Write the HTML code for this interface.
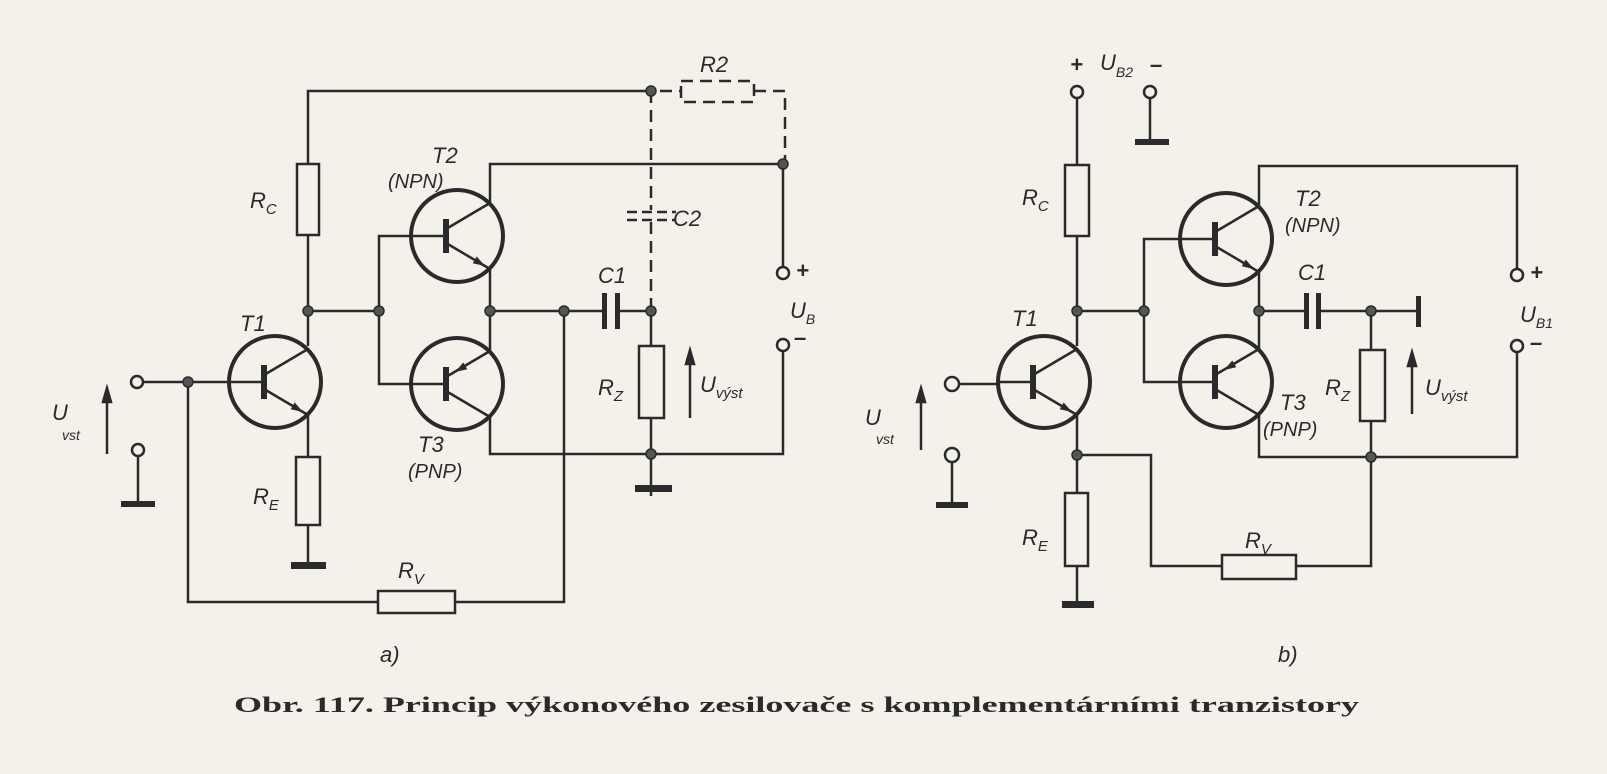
<!DOCTYPE html>
<html><head><meta charset="utf-8"><style>
html,body{margin:0;padding:0;background:#f3f1ea;}
svg{display:block}
text{font-family:"Liberation Sans",sans-serif;font-style:italic;fill:#2a2a2a;}
text.cap{font-family:"Liberation Serif",serif;font-style:normal;font-weight:bold;}
</style></head><body>
<svg width="1607" height="774" viewBox="0 0 1607 774" xmlns="http://www.w3.org/2000/svg">
<rect width="1607" height="774" fill="#f3f1ea"/>
<defs>
<g id="npn" fill="none" stroke="#2a2a2a">
<circle r="46" stroke-width="4"/>
<line x1="-46" y1="0" x2="-11" y2="0" stroke-width="2.5"/>
<line x1="-11" y1="-17" x2="-11" y2="17" stroke-width="6"/>
<line x1="-11" y1="-7" x2="33" y2="-33" stroke-width="2.5"/>
<line x1="-11" y1="7" x2="33" y2="33" stroke-width="2.5"/>
<polygon points="28,30 15.7,27.3 19.7,20.5" fill="#2a2a2a" stroke="none"/>
</g>
<g id="pnp" fill="none" stroke="#2a2a2a">
<circle r="46" stroke-width="4"/>
<line x1="-46" y1="0" x2="-11" y2="0" stroke-width="2.5"/>
<line x1="-11" y1="-17" x2="-11" y2="17" stroke-width="6"/>
<line x1="-11" y1="-7" x2="33" y2="-33" stroke-width="2.5"/>
<line x1="-11" y1="7" x2="33" y2="33" stroke-width="2.5"/>
<polygon points="-2,-12 10.3,-14.7 6.3,-21.5" fill="#2a2a2a" stroke="none"/>
</g>
</defs>

<g fill="none" stroke="#2a2a2a" stroke-width="2.5">
<!-- ===== circuit a ===== -->
<polyline points="308,164 308,91 651,91"/>
<rect x="297" y="164" width="22" height="71"/>
<line x1="308" y1="235" x2="308" y2="346"/>
<line x1="308" y1="311" x2="379" y2="311"/>
<polyline points="412,236 379,236 379,384 412,384"/>
<polyline points="490,203 490,164 783,164 783,268"/>
<line x1="490" y1="269" x2="490" y2="351"/>
<polyline points="490,417 490,454 783,454 783,350"/>
<line x1="490" y1="311" x2="605" y2="311"/>
<line x1="617" y1="311" x2="651" y2="311"/>
<line x1="651" y1="311" x2="651" y2="346"/>
<rect x="639" y="346" width="25" height="72"/>
<line x1="651" y1="418" x2="651" y2="496"/>
<g stroke-dasharray="12,7">
<line x1="651" y1="91" x2="651" y2="210"/>
<line x1="651" y1="222" x2="651" y2="311"/>
<line x1="660" y1="91" x2="681" y2="91"/>
<rect x="681" y="81" width="73" height="21"/>
<polyline points="754,91 785,91 785,164"/>
<line x1="627" y1="212" x2="676" y2="212" stroke-dasharray="10,5"/>
<line x1="627" y1="220" x2="676" y2="220" stroke-dasharray="10,5"/>
</g>
<line x1="143" y1="382" x2="228" y2="382"/>
<polyline points="188,382 188,602 378,602"/>
<rect x="378" y="591" width="77" height="22"/>
<polyline points="455,602 564,602 564,311"/>
<line x1="308" y1="415" x2="308" y2="457"/>
<rect x="296" y="457" width="24" height="68"/>
<line x1="308" y1="525" x2="308" y2="563"/>
<line x1="138" y1="456" x2="138" y2="502"/>

<!-- ===== circuit b ===== -->
<line x1="1077" y1="98" x2="1077" y2="165"/>
<rect x="1065" y="165" width="24" height="71"/>
<line x1="1077" y1="236" x2="1077" y2="346"/>
<line x1="1150" y1="98" x2="1150" y2="140"/>
<line x1="1077" y1="311" x2="1144" y2="311"/>
<polyline points="1180,239 1144,239 1144,382 1180,382"/>
<polyline points="1259,206 1259,166 1517,166 1517,269"/>
<line x1="1259" y1="272" x2="1259" y2="349"/>
<polyline points="1259,415 1259,457 1517,457 1517,352"/>
<line x1="1259" y1="311" x2="1307" y2="311"/>
<line x1="1318" y1="311" x2="1418" y2="311"/>
<line x1="1371" y1="311" x2="1371" y2="350"/>
<rect x="1360" y="350" width="25" height="71"/>
<polyline points="1371,421 1371,566 1296,566"/>
<rect x="1222" y="555" width="74" height="24"/>
<polyline points="1222,566 1151,566 1151,455 1077,455"/>
<line x1="1077" y1="415" x2="1077" y2="493"/>
<rect x="1065" y="493" width="23" height="73"/>
<line x1="1077" y1="566" x2="1077" y2="603"/>
<line x1="958" y1="384" x2="998" y2="384"/>
<line x1="952" y1="461" x2="952" y2="503"/>
</g>

<use href="#npn" x="275" y="382"/>
<use href="#npn" x="457" y="236"/>
<use href="#pnp" x="457" y="384"/>
<use href="#npn" x="1044" y="382"/>
<use href="#npn" x="1226" y="239"/>
<use href="#pnp" x="1226" y="382"/>

<g fill="#2a2a2a">
<rect x="602" y="293" width="5" height="36"/><rect x="615" y="293" width="5" height="36"/>
<rect x="1304" y="293" width="5" height="36"/><rect x="1316" y="293" width="5" height="36"/>
<rect x="1416" y="296" width="5" height="31"/>
<rect x="635" y="485" width="37" height="7"/>
<rect x="291" y="562" width="35" height="7"/>
<rect x="121" y="501" width="34" height="6"/>
<rect x="1135" y="139" width="34" height="6"/>
<rect x="936" y="502" width="32" height="6"/>
<rect x="1062" y="601" width="32" height="7"/>
</g>
<g fill="#555" stroke="#2a2a2a" stroke-width="1.5">
<circle cx="651" cy="91" r="5"/><circle cx="308" cy="311" r="5"/><circle cx="379" cy="311" r="5"/>
<circle cx="490" cy="311" r="5"/><circle cx="564" cy="311" r="5"/><circle cx="651" cy="311" r="5"/>
<circle cx="651" cy="454" r="5"/><circle cx="188" cy="382" r="5"/><circle cx="783" cy="164" r="5"/>
<circle cx="1077" cy="311" r="5"/><circle cx="1144" cy="311" r="5"/><circle cx="1259" cy="311" r="5"/>
<circle cx="1371" cy="311" r="5"/><circle cx="1371" cy="457" r="5"/><circle cx="1077" cy="455" r="5"/>
</g>
<g fill="#f3f1ea" stroke="#2a2a2a" stroke-width="2.5">
<circle cx="137" cy="382" r="6"/><circle cx="138" cy="450" r="6"/>
<circle cx="783" cy="273" r="6"/><circle cx="783" cy="345" r="6"/>
<circle cx="1077" cy="92" r="6"/><circle cx="1150" cy="92" r="6"/>
<circle cx="952" cy="384" r="7"/><circle cx="952" cy="455" r="7"/>
<circle cx="1517" cy="275" r="6"/><circle cx="1517" cy="346" r="6"/>
</g>
<g stroke="#2a2a2a" stroke-width="2.5" fill="#2a2a2a">
<line x1="107" y1="454" x2="107" y2="398"/><polygon points="107,388 103,402 111,402"/>
<line x1="690" y1="418" x2="690" y2="360"/><polygon points="690,350 686,364 694,364"/>
<line x1="921" y1="450" x2="921" y2="398"/><polygon points="921,388 917,402 925,402"/>
<line x1="1412" y1="414" x2="1412" y2="362"/><polygon points="1412,352 1408,366 1416,366"/>
</g>

<g font-size="22">
<text x="700" y="72">R2</text>
<text x="250" y="208">R<tspan font-size="15" dy="6">C</tspan></text>
<text x="432" y="163">T2</text>
<text x="388" y="188" font-size="20">(NPN)</text>
<text x="673" y="226">C2</text>
<text x="240" y="331">T1</text>
<text x="598" y="283">C1</text>
<text x="598" y="395">R<tspan font-size="15" dy="6">Z</tspan></text>
<text x="700" y="392">U<tspan font-size="15" dy="6">výst</tspan></text>
<text x="418" y="452">T3</text>
<text x="408" y="478" font-size="20">(PNP)</text>
<text x="253" y="504">R<tspan font-size="15" dy="6">E</tspan></text>
<text x="398" y="578">R<tspan font-size="15" dy="6">V</tspan></text>
<text x="796" y="278" font-style="normal" font-weight="bold">+</text>
<text x="790" y="318">U<tspan font-size="14" dy="6">B</tspan></text>
<text x="794" y="345" font-style="normal" font-weight="bold">–</text>
<text x="52" y="420">U</text><text x="62" y="440" font-size="14">vst</text>
<text x="380" y="662">a)</text>
</g>
<g font-size="22">
<text x="1070" y="72" font-style="normal" font-weight="bold">+</text>
<text x="1100" y="70">U<tspan font-size="14" dy="7">B2</tspan></text>
<text x="1150" y="72" font-style="normal" font-weight="bold">–</text>
<text x="1022" y="205">R<tspan font-size="15" dy="6">C</tspan></text>
<text x="1012" y="326">T1</text>
<text x="1295" y="206">T2</text>
<text x="1285" y="232" font-size="20">(NPN)</text>
<text x="1298" y="280">C1</text>
<text x="1280" y="410">T3</text>
<text x="1263" y="436" font-size="20">(PNP)</text>
<text x="1325" y="395">R<tspan font-size="15" dy="6">Z</tspan></text>
<text x="1425" y="395">U<tspan font-size="15" dy="6">výst</tspan></text>
<text x="1022" y="545">R<tspan font-size="15" dy="6">E</tspan></text>
<text x="1245" y="548">R<tspan font-size="15" dy="6">V</tspan></text>
<text x="1530" y="280" font-style="normal" font-weight="bold">+</text>
<text x="1520" y="322">U<tspan font-size="14" dy="6">B1</tspan></text>
<text x="1530" y="350" font-style="normal" font-weight="bold">–</text>
<text x="865" y="425">U</text><text x="876" y="444" font-size="14">vst</text>
<text x="1278" y="662">b)</text>
</g>
<text class="cap" x="234" y="712" font-size="22" textLength="1125" lengthAdjust="spacingAndGlyphs">Obr. 117. Princip výkonového zesilovače s komplementárními tranzistory</text>
</svg>
</body></html>
